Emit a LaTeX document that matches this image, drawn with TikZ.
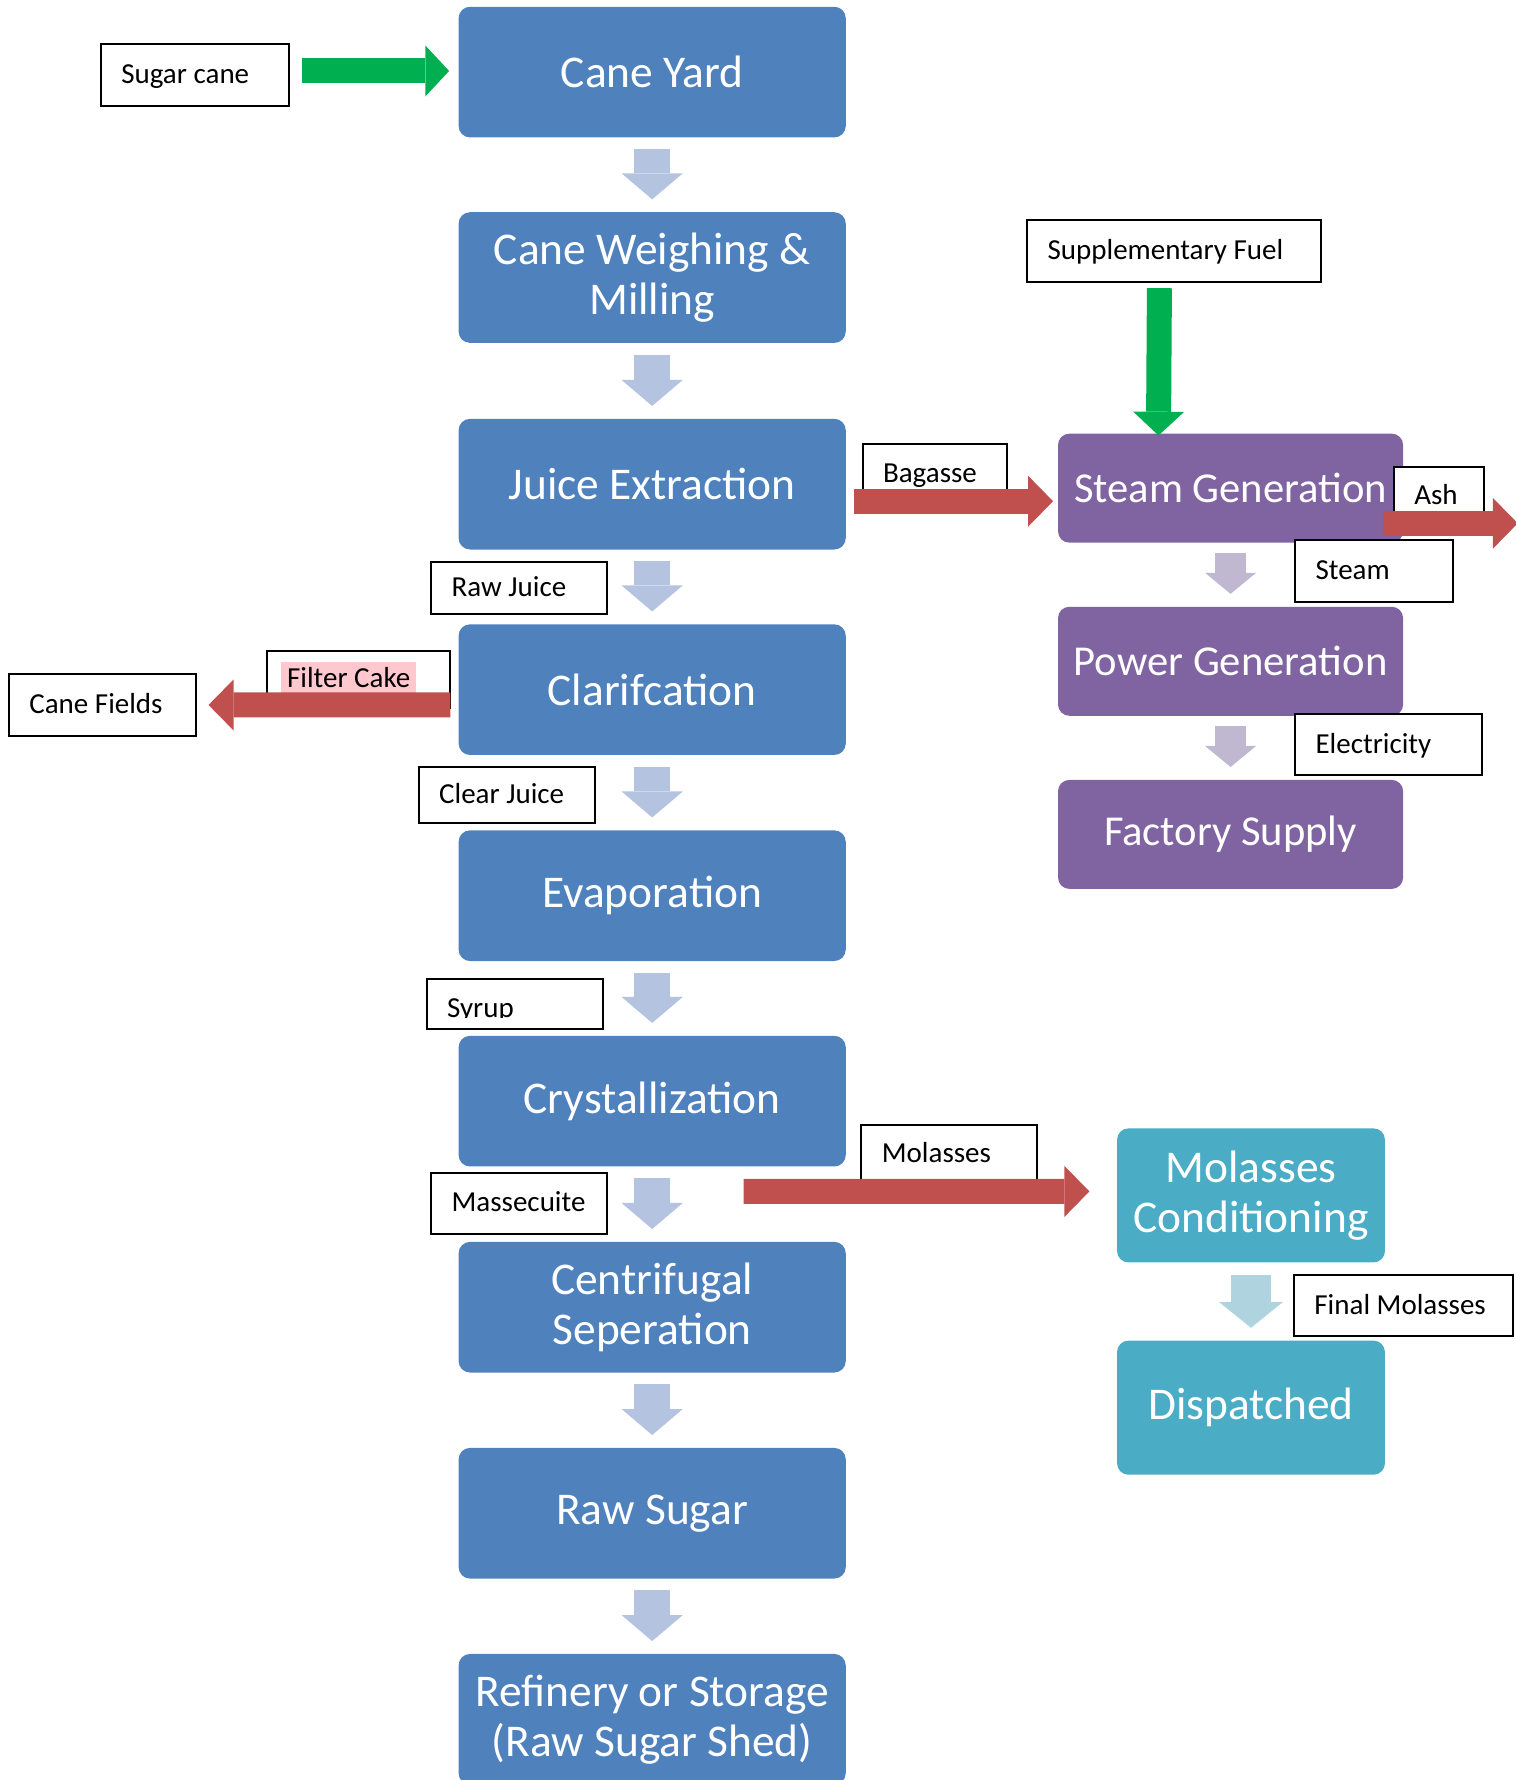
\documentclass[tikz,border=0pt]{standalone}
\usepackage{fontspec}
\setmainfont{Carlito}
\usepackage{trimclip}
\usetikzlibrary{arrows.meta,calc}

\definecolor{stageblue}{RGB}{79,129,189}
\definecolor{powerpurple}{RGB}{128,100,162}
\definecolor{molteal}{RGB}{75,172,198}
\definecolor{flowblue}{RGB}{180,195,223}
\definecolor{flowpurple}{RGB}{191,184,208}
\definecolor{flowteal}{RGB}{176,212,223}
\definecolor{feedgreen}{RGB}{0,176,80}
\definecolor{wastered}{RGB}{192,80,77}
\definecolor{hlpink}{RGB}{255,199,206}

\tikzset{
  stage/.style={rectangle, rounded corners=5.7pt, fill=stageblue, text=white, inner sep=0pt,
    minimum width=193.5pt, minimum height=65.3pt, align=center, font=\fontsize{22.7}{25}\selectfont},
  powerbox/.style={stage, fill=powerpurple, minimum width=172.5pt, minimum height=54.5pt, font=\fontsize{21.3}{24}\selectfont},
  molbox/.style={stage, fill=molteal, minimum width=133.9pt, minimum height=67pt},
  lbl/.style={draw=black, line width=1pt, fill=white, anchor=west, align=left, inner xsep=10.2pt, inner ysep=0pt,
    minimum height=30.6pt, text width=#1, text height=10pt, text depth=1.5pt, font=\fontsize{14.5}{17}\selectfont,
    execute at begin node={\spaceskip=0pt\xspaceskip=0pt}},
  downblue/.style={draw=flowblue, line width=18.2pt, -{Triangle[length=13pt, width=30.6pt, line width=0pt]}},
  downpurple/.style={draw=flowpurple, line width=15.5pt, -{Triangle[length=10.5pt, width=25.5pt, line width=0pt]}},
  downteal/.style={draw=flowteal, line width=19.8pt, -{Triangle[length=13pt, width=32.3pt, line width=0pt]}},
  feedin/.style={draw=feedgreen, line width=12.5pt, -{Triangle[length=11.9pt, width=25.5pt, line width=0pt]}},
  wasteout/.style={draw=wastered, line width=12.5pt, -{Triangle[length=12.5pt, width=25.5pt, line width=0pt]}}
}

\hyphenpenalty=10000
\exhyphenpenalty=10000

\begin{document}
\begin{tikzpicture}[x=0.5674pt,y=0.5674pt,yscale=-1,xscale=1]
\useasboundingbox (0,0) rectangle (1335,1568);

\node[stage] (yard) at (574.5,63.5) {Cane Yard};
\node[stage] (mill) at (574.5,244.5) {Cane Weighing \&\\Milling};
\node[stage] (juice) at (574.5,426.5) {Juice Extraction};
\node[stage] (clar) at (574.5,607.5) {Clarifcation};
\node[stage] (evap) at (574.5,789) {Evaporation};
\node[stage] (cryst) at (574.5,970) {Crystallization};
\node[stage] (centri) at (574.5,1151.5) {Centrifugal\\Seperation};
\node[stage] (rawsugar) at (574.5,1333) {Raw Sugar};
\node[stage] (refinery) at (574.5,1514.5) {Refinery or Storage\\(Raw Sugar Shed)};

\node[powerbox] (steam) at (1084,430) {Steam Generation};
\node[powerbox] (powergen) at (1084,582.5) {Power Generation};
\node[powerbox] (factory) at (1084,735) {Factory Supply};

\node[molbox] (molcond) at (1102,1053) {Molasses\\Conditioning};
\node[molbox] (dispatch) at (1102,1240) {Dispatched};

\foreach \a/\b in {yard/mill, mill/juice, juice/clar, clar/evap, evap/cryst, cryst/centri, centri/rawsugar, rawsugar/refinery}
  \draw[downblue] ($(\a.south)+(0,10)$) -- ($(\b.north)+(0,-11)$);
\draw[downpurple] ($(steam.south)+(0,9)$) -- ($(powergen.north)+(0,-11)$);
\draw[downpurple] ($(powergen.south)+(0,9)$) -- ($(factory.north)+(0,-11)$);
\draw[downteal] ($(molcond.south)+(0,11)$) -- ($(dispatch.north)+(0,-11)$);

\node[lbl=73.8pt] (sugarcane) at (88,66) {Sugar cane};
\node[lbl=126.5pt] (fuel) at (904,221) {Supplementary Fuel};
\node[lbl=51.6pt, minimum height=30.1pt] (bagasse) at (759,417.5) {Bagasse};
\node[lbl=24.4pt, minimum height=29.5pt] (ash) at (1227,437) {Ash};
\node[lbl=58.4pt] (steamlbl) at (1140,503) {Steam};
\node[lbl=73.2pt] (elec) at (1140,656) {Electricity};
\node[lbl=67.5pt, minimum height=26.1pt] (rawjuice) at (379,518) {Raw Juice};
\node[lbl=76.6pt, inner xsep=7.4pt, minimum height=28.9pt, text height=12.5pt, text depth=4pt] (filtercake) at (234,598.5)
  {\setlength{\fboxsep}{2.8pt}\colorbox{hlpink}{Filter Cake}};
\node[lbl=73.2pt] (canefields) at (7,621) {Cane Fields};
\node[lbl=67.5pt, minimum height=27.8pt] (clearjuice) at (368,700.5) {Clear Juice};
\node[lbl=67.5pt, minimum height=25pt, text height=14pt, text depth=0pt] (syrup) at (375,884) {\clipbox{0pt {\depth} 0pt 0pt}{Syrup}};
\node[lbl=67.5pt, minimum height=28.9pt] (molasses) at (758,1016.5) {Molasses};
\node[lbl=67.5pt] (massecuite) at (379,1060) {Massecuite};
\node[lbl=89.1pt] (finalmol) at (1139,1150) {Final Molasses};

\coordinate (ashsink) at (1337,461);
\coordinate (molsrc) at (655,1049.5);

\draw[feedin] ($(sugarcane.east)+(10,-3.5)$) -- ($(yard.west |- sugarcane.east)+(-8,-3.5)$);
\draw[feedin] ($(fuel.south)+(-13,5)$) -- ($(steam.north)+(-63.5,2)$);
\draw[wasteout] ($(juice.east)+(7,15)$) -- ($(steam.west)+(-4,11.5)$);
\draw[wasteout] ($(steam.east)+(-18,31)$) -- (ashsink);
\draw[wasteout] ($(clar.west)+(-7,13.5)$) -- ($(canefields.east)+(10,0)$);
\draw[wasteout] (molsrc) -- ($(molcond.west)+(-24,-3.5)$);
\end{tikzpicture}
\end{document}
